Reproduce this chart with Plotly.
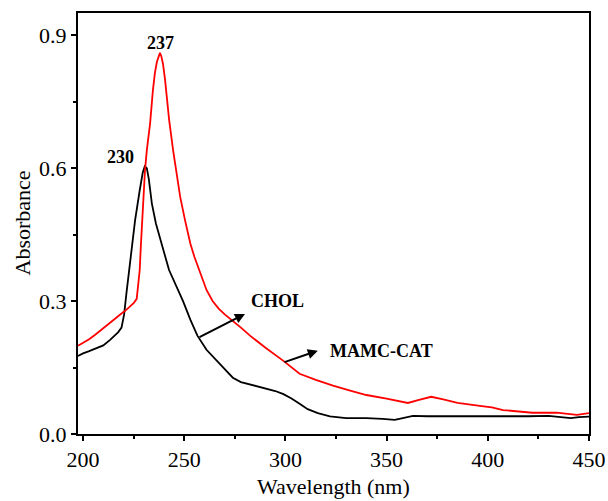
import plotly.graph_objects as go

# CHOL (black)
chol_wl = [197.5, 200, 203, 206, 210, 213.5, 217.4, 219, 220.3, 221.5, 222.7, 224, 225.7, 228, 229.5, 230.5, 231.5,
           232.5, 234, 236, 238, 240, 242.5, 246, 249.4, 253, 256.5, 261, 266, 270, 274, 278, 283, 290,
           295, 299, 303, 307, 311, 316, 322, 330, 340, 348, 354, 358, 363, 370, 380, 390, 400, 410,
           420, 430, 437, 441, 445, 450]
chol_abs = [0.176, 0.182, 0.187, 0.193, 0.200, 0.213, 0.230, 0.240, 0.27, 0.32, 0.369, 0.42, 0.482, 0.55, 0.59, 0.604, 0.60,
            0.575, 0.52, 0.475, 0.445, 0.41, 0.37, 0.335, 0.30, 0.258, 0.222, 0.19, 0.165, 0.145, 0.127, 0.117, 0.111, 0.104,
            0.097, 0.09, 0.08, 0.068, 0.056, 0.047, 0.040, 0.036, 0.036, 0.034, 0.032, 0.036, 0.041, 0.040, 0.040, 0.039, 0.039, 0.040,
            0.040, 0.041, 0.038, 0.036, 0.038, 0.039]

# MAMC-CAT (red)
cat_wl = [197.5, 200, 203, 206, 208.4, 210, 212.4, 216, 219, 220.8, 223, 225, 226.5, 227.2, 228, 228.5, 229.5, 230.6, 231.5,
          233.1, 234.5, 235.5, 236.5, 237.3, 238, 238.7, 239.5, 240.5, 241.5, 242.5, 244.5, 246.4, 248, 250.4, 253, 255, 257.8,
          261, 264, 267, 270, 274, 278, 282.5, 290, 299, 307, 315, 323.5, 332, 340, 350, 360.5, 366, 372, 378, 385, 397, 402, 407.5,
          415, 422, 434, 444, 450]
cat_abs = [0.199, 0.205, 0.214, 0.224, 0.233, 0.238, 0.249, 0.262, 0.272, 0.278, 0.287, 0.295, 0.305, 0.33, 0.37, 0.42, 0.51, 0.595, 0.64,
           0.70, 0.775, 0.815, 0.84, 0.853, 0.86, 0.852, 0.835, 0.80, 0.755, 0.71, 0.64, 0.58, 0.535, 0.482, 0.43, 0.40, 0.365,
           0.325, 0.300, 0.283, 0.270, 0.256, 0.240, 0.222, 0.195, 0.165, 0.136, 0.122, 0.109, 0.098, 0.088, 0.080, 0.070, 0.077, 0.084, 0.078, 0.070, 0.063, 0.060, 0.054,
           0.051, 0.048, 0.048, 0.043, 0.047]

x_ticks = [200, 250, 300, 350, 400, 450]
y_ticks = [0.0, 0.3, 0.6, 0.9]

X_RANGE = [197.5, 450]
Y_RANGE = [0.0, 0.95]

FONT = "Liberation Serif"

fig = go.Figure()
fig.add_trace(go.Scatter(x=chol_wl, y=chol_abs, mode="lines", line=dict(color="black", width=1.8),
                         name="CHOL", showlegend=False))
fig.add_trace(go.Scatter(x=cat_wl, y=cat_abs, mode="lines", line=dict(color="#ff0000", width=1.8),
                         name="MAMC-CAT", showlegend=False))

ann_font = dict(family=FONT, size=18, color="black")
fig.add_annotation(x=238.5, y=0.882, text="<b>237</b>", showarrow=False, font=ann_font)
fig.add_annotation(x=218.3, y=0.624, text="<b>230</b>", showarrow=False, font=ann_font)
fig.add_annotation(x=296.3, y=0.301, text="<b>CHOL</b>", showarrow=False, font=ann_font)
fig.add_annotation(x=347.5, y=0.188, text="<b>MAMC-CAT</b>", showarrow=False, font=ann_font)

fig.add_annotation(x=280, y=0.271, ax=256.8, ay=0.217, axref="x", ayref="y", xref="x", yref="y",
                   text="", showarrow=True, arrowhead=2, arrowsize=1, arrowwidth=2, arrowcolor="black")
fig.add_annotation(x=316, y=0.188, ax=298.8, ay=0.161, axref="x", ayref="y", xref="x", yref="y",
                   text="", showarrow=True, arrowhead=2, arrowsize=1, arrowwidth=2, arrowcolor="black")

# axis titles
title_font = dict(family=FONT, size=22, color="black")
fig.add_annotation(x=0, y=0.5, xref="paper", yref="paper", text="Absorbance", textangle=-90,
                   showarrow=False, font=title_font, xanchor="center", yanchor="middle", xshift=-56)
fig.add_annotation(x=0.5, y=0, xref="paper", yref="paper", text="Wavelength (nm)",
                   showarrow=False, font=title_font, xanchor="center", yanchor="middle", yshift=-52)

tick_font = dict(family=FONT, size=22, color="black")

fig.update_layout(
    width=608, height=501,
    margin=dict(l=78, r=19, t=13, b=67, autoexpand=False),
    paper_bgcolor="white", plot_bgcolor="white",
    font=dict(family=FONT, color="black"),
    xaxis=dict(range=X_RANGE, tickvals=x_ticks, ticktext=[str(v) for v in x_ticks], automargin=False,
               showgrid=False, zeroline=False, showline=True, linecolor="black", linewidth=2, mirror=True,
               ticks="outside", ticklen=5, tickwidth=1.5, tickcolor="black", tickfont=tick_font,
               minor=dict(tickvals=[225, 275, 325, 375, 425], ticks="outside", ticklen=3, tickwidth=1.5, tickcolor="black")),
    yaxis=dict(range=Y_RANGE, tickvals=y_ticks, ticktext=["0.0", "0.3", "0.6", "0.9"], automargin=False,
               showgrid=False, zeroline=False, showline=True, linecolor="black", linewidth=2, mirror=True,
               ticks="outside", ticklen=5, tickwidth=1.5, tickcolor="black", tickfont=tick_font,
               minor=dict(tickvals=[0.15, 0.45, 0.75], ticks="outside", ticklen=3, tickwidth=1.5, tickcolor="black")),
    xaxis2=dict(range=X_RANGE, overlaying="x", side="top", showgrid=False, zeroline=False, automargin=False,
                showticklabels=False, tickvals=[200, 225, 250, 275, 300, 325, 350, 375, 400, 425, 450],
                ticks="inside", ticklen=3, tickwidth=1.5, tickcolor="black", anchor="y"),
    yaxis2=dict(range=Y_RANGE, overlaying="y", side="right", showgrid=False, zeroline=False, automargin=False,
                showticklabels=False, tickvals=[0.15, 0.3, 0.45, 0.6, 0.75, 0.9],
                ticks="inside", ticklen=3, tickwidth=1.5, tickcolor="black", anchor="x"),
)

fig.write_html("out.html", config={"displayModeBar": False},
               post_script="document.body.style.margin='0';document.body.style.overflow='hidden';")
